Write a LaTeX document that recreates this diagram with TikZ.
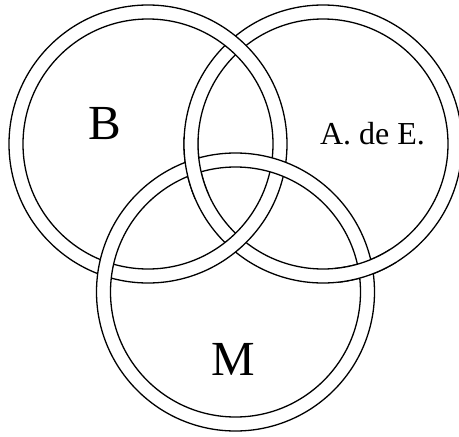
\documentclass[tikz,border=0pt]{standalone}
\usepackage{fontspec}
\setmainfont{Liberation Serif}
\tikzset{
  ringline/.style={line width=1.3pt, draw=black},
  biglabel/.style={anchor=base, inner sep=0pt, font=\fontsize{49}{49}\selectfont},
  smalllabel/.style={anchor=base, inner sep=0pt, font=\fontsize{32}{32}\selectfont}
}
\newcommand\myring[1]{%
  \fill[white,even odd rule] (#1) circle[radius=139pt] (#1) circle[radius=125pt];
  \draw[ringline] (#1) circle[radius=139pt] (#1) circle[radius=125pt];}
\begin{document}
\begin{tikzpicture}[x=1pt,y=-1pt]
\useasboundingbox (0,0) rectangle (459,437);
\coordinate (cB) at (148,144);
\coordinate (cA) at (323,144);
\coordinate (cM) at (235.5,292);
\coordinate (xAM1) at (193,167);
\coordinate (xAM2) at (365.5,269);
% layering: A under B, B under M, M under A
\myring{cA}
\myring{cB}
\myring{cM}
\begin{scope}
  \clip (xAM1) circle[radius=32pt];
  \myring{cA}
\end{scope}
\begin{scope}
  \clip (xAM2) circle[radius=32pt];
  \myring{cA}
\end{scope}
\node[biglabel] (lB) at (105,139) {B};
\node[smalllabel] (lA) at (372.5,144) {A. de E.};
\node[biglabel] (lM) at (233.5,375) {M};
\end{tikzpicture}
\end{document}
